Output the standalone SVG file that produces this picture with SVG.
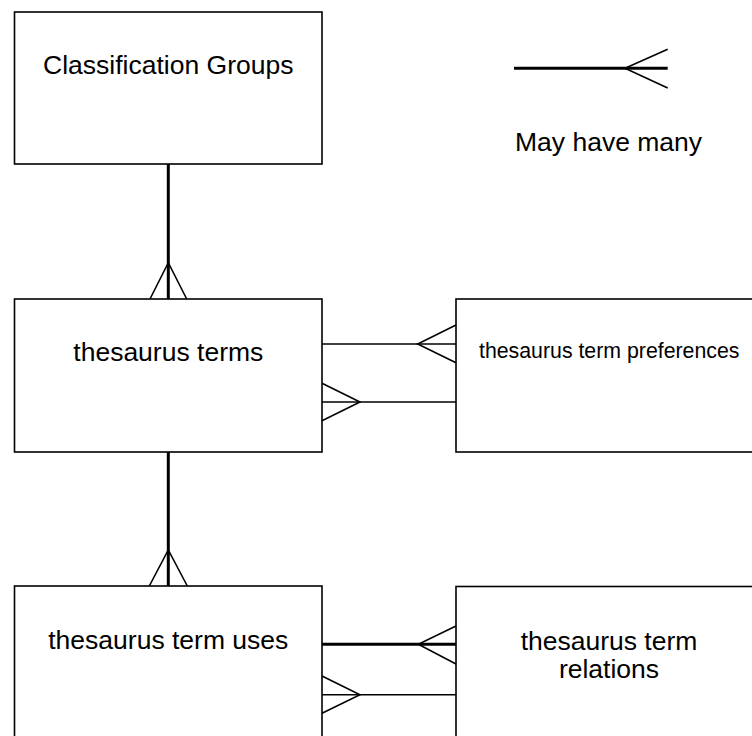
<svg xmlns="http://www.w3.org/2000/svg" width="752" height="736" viewBox="0 0 752 736">
<style>
.box{fill:#fff;stroke:#000;stroke-width:1.6}
.lbl{font-family:"Liberation Sans",Arial,sans-serif;font-size:26.5px;fill:#000}
.thick{stroke:#000;stroke-width:3;fill:none}
.thin{stroke:#000;stroke-width:1.6;fill:none}
.crow{stroke:#000;stroke-width:1.6;fill:none}
</style>
<rect width="752" height="736" fill="#fff"/>
<g id="classification-groups">
<rect class="box" x="14.5" y="12" width="307.5" height="152"/>
<text class="lbl" x="168.3" y="74" text-anchor="middle">Classification Groups</text>
</g>
<g id="thesaurus-terms">
<rect class="box" x="14.5" y="299" width="307.5" height="153"/>
<text class="lbl" x="168.3" y="361" text-anchor="middle">thesaurus terms</text>
</g>
<g id="thesaurus-term-preferences">
<rect class="box" x="456" y="299" width="310" height="153"/>
<text class="lbl" x="479" y="358" style="font-size:21.3px">thesaurus term preferences</text>
</g>
<g id="thesaurus-term-uses">
<rect class="box" x="14.5" y="586" width="307.5" height="170"/>
<text class="lbl" x="168.3" y="649.3" text-anchor="middle">thesaurus term uses</text>
</g>
<g id="thesaurus-term-relations">
<rect class="box" x="456" y="586.5" width="310" height="170"/>
<text class="lbl" x="609" y="650" text-anchor="middle">thesaurus term</text>
<text class="lbl" x="609" y="678.3" text-anchor="middle">relations</text>
</g>
<g id="legend">
<line class="thick" x1="514" y1="68.3" x2="667.7" y2="68.3"/>
<polyline class="crow" points="667.7,49.3 625,68.3 667.7,88"/>
<text class="lbl" x="515" y="151">May have many</text>
</g>
<g id="connectors">
<line class="thick" x1="168.3" y1="164" x2="168.3" y2="299"/>
<polyline class="crow" points="150,299 168.3,262.7 186.7,299"/>
<line class="thick" x1="168.3" y1="452" x2="168.3" y2="586"/>
<polyline class="crow" points="149.3,586 168.3,550 187.3,586"/>
<line class="thin" x1="322" y1="344" x2="456" y2="344"/>
<polyline class="crow" points="456,325 417.7,344 456,362.7"/>
<line class="thin" x1="322" y1="402" x2="456" y2="402"/>
<polyline class="crow" points="322,383.3 360,402 322,420.7"/>
<line class="thick" x1="322" y1="644.3" x2="456" y2="644.3"/>
<polyline class="crow" points="456,626 418.3,644.3 456,664"/>
<line class="thin" x1="322" y1="694.7" x2="456" y2="694.7"/>
<polyline class="crow" points="322,676 360,694.7 322,713.3"/>
</g>
</svg>
